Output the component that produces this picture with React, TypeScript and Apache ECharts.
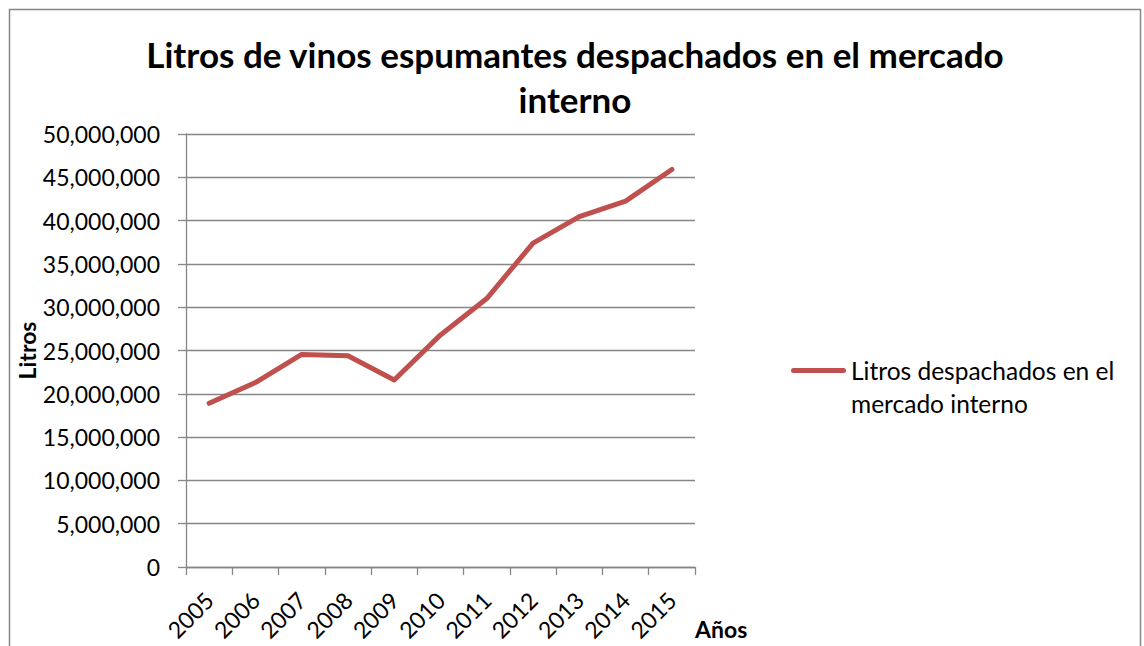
import React, { useEffect, useRef } from "react";
import * as echarts from "echarts";

const years = ["2005", "2006", "2007", "2008", "2009", "2010", "2011", "2012", "2013", "2014", "2015"];
const litros = [18900000, 21300000, 24550000, 24400000, 21600000, 26800000, 31000000, 37400000, 40450000, 42250000, 45900000];
const seriesName = "Litros despachados en el mercado interno";
const titleText = "Litros de vinos espumantes despachados en el mercado\ninterno";
const xAxisName = "Años";
const yAxisName = "Litros";

const FONT = "Lato, 'Open Sans', sans-serif";
const GRAY = "#868686";
const RED = "#C0504D";

export default function App() {
  const ref = useRef<HTMLDivElement>(null);
  useEffect(() => {
    if (!ref.current) return;
    const chart = echarts.init(ref.current, null, { renderer: "svg" });
    chart.setOption({
      animation: false,
      backgroundColor: "#ffffff",
      textStyle: { fontFamily: FONT },
      title: {
        text: titleText,
        left: 575,
        top: 31,
        padding: 0,
        textAlign: "center",
        textStyle: { fontFamily: FONT, fontSize: 35, fontWeight: "bold", color: "#000", lineHeight: 45 },
      },
      graphic: [
        {
          type: "rect",
          shape: { x: 9.5, y: 9.5, width: 1131, height: 700 },
          style: { fill: "none", stroke: GRAY, lineWidth: 1.5 },
          silent: true,
        },
        {
          type: "text",
          left: 695,
          top: 617,
          style: { text: xAxisName, fontFamily: FONT, fontSize: 23, fontWeight: "bold", fill: "#000" },
          silent: true,
        },
      ],
      legend: {
        left: 791,
        top: 354,
        padding: 0,
        itemWidth: 55,
        itemHeight: 38,
        icon: "path://M2.5,0H52.5A2.5,2.5,0,0,1,52.5,5H2.5A2.5,2.5,0,0,1,2.5,0Z M27.5,37.99H27.51V38H27.5Z",
        formatter: () => "Litros despachados en el\nmercado interno",
        textStyle: { fontFamily: FONT, fontSize: 24.5, color: "#000", lineHeight: 33 },
        data: [seriesName],
      },
      grid: { left: 186, top: 134, width: 509, height: 433 },
      xAxis: {
        type: "category",
        data: years,
        boundaryGap: true,
        axisLine: { lineStyle: { color: GRAY, width: 1.3 } },
        axisTick: { show: true, length: 8, lineStyle: { color: GRAY, width: 1.3 } },
        axisLabel: { rotate: 45, fontFamily: FONT, fontSize: 23, color: "#000", margin: 29, interval: 0 },
      },
      yAxis: {
        type: "value",
        min: 0,
        max: 50000000,
        interval: 5000000,
        name: yAxisName,
        nameLocation: "middle",
        nameRotate: 90,
        nameGap: 146,
        nameTextStyle: { fontFamily: FONT, fontSize: 23, fontWeight: "bold", color: "#000" },
        axisLine: { show: true, lineStyle: { color: GRAY, width: 1.3 } },
        axisTick: { show: true, length: 8, lineStyle: { color: GRAY, width: 1.3 } },
        axisLabel: {
          fontFamily: FONT,
          fontSize: 23,
          color: "#000",
          margin: 26,
          formatter: (v: number) => v.toLocaleString("en-US"),
        },
        splitLine: { show: true, lineStyle: { color: GRAY, width: 1.3 } },
      },
      series: [
        {
          name: seriesName,
          type: "line",
          data: litros,
          symbol: "none",
          lineStyle: { color: RED, width: 5, cap: "round", join: "round" },
          itemStyle: { color: RED },
        },
      ],
    });
    return () => chart.dispose();
  }, []);
  return <div ref={ref} style={{ position: "fixed", left: 0, top: 0, width: 1144, height: 646 }} />;
}
